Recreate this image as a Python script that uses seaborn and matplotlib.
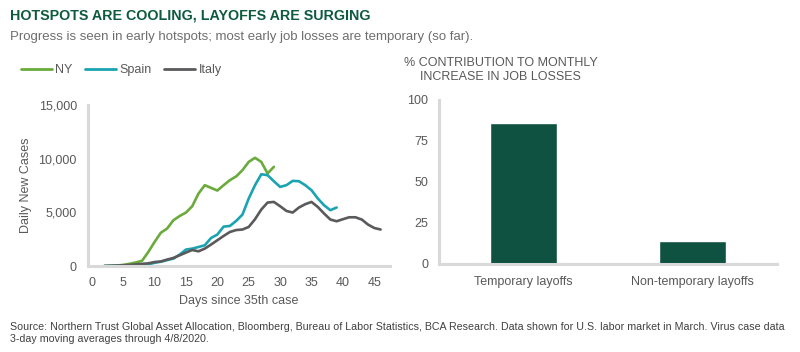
import matplotlib
matplotlib.use("Agg")
import matplotlib.pyplot as plt
import seaborn as sns
import pandas as pd
import numpy as np
from matplotlib.ticker import FuncFormatter
from matplotlib.lines import Line2D

sns.set_theme(style="white")
plt.rcParams['font.family'] = ['Liberation Sans', 'DejaVu Sans']

# ---- data ----
ny_days = list(range(2, 30))
ny_cases = [0, 20, 50, 100, 200, 330, 480, 1300, 2240, 3100, 3490, 4260, 4660, 4980,
            5570, 6750, 7530, 7280, 7030, 7530, 8000, 8350, 8930, 9700, 10080, 9700,
            8620, 9240]
spain_days = list(range(2, 40))
spain_cases = [0, 10, 20, 30, 50, 70, 100, 150, 300, 400, 550, 690, 1060, 1530, 1620,
               1770, 1930, 2610, 2930, 3670, 3730, 4200, 4790, 6290, 7530, 8550, 8460,
               7900, 7370, 7530, 7930, 7900, 7530, 7060, 6290, 5660, 5200, 5450]
italy_days = list(range(2, 47))
italy_cases = [0, 20, 40, 70, 100, 150, 200, 250, 370, 420, 600, 750, 1000, 1250, 1490,
               1370, 1620, 2000, 2400, 2800, 3170, 3350, 3400, 3640, 4360, 5260, 5910,
               5970, 5570, 5130, 4980, 5450, 5760, 5970, 5500, 4890, 4330, 4170, 4360,
               4540, 4540, 4330, 3860, 3540, 3400]
series_names = ["NY", "Spain", "Italy"]
series_colors = ["#6aab3c", "#1aa3b1", "#5a5a5c"]

bar_categories = ["Temporary layoffs", "Non-temporary layoffs"]
bar_values = [86, 14]

x_ticks = [0, 5, 10, 15, 20, 25, 30, 35, 40, 45]
y_ticks_left = [0, 5000, 10000, 15000]
y_ticks_right = [0, 25, 50, 75, 100]

# ---- figure ----
fig = plt.figure(figsize=(8, 3.52), dpi=100)
grey_text = "#595959"
spine_col = "#d9d9d9"

df = pd.concat([
    pd.DataFrame({"day": ny_days, "cases": ny_cases, "series": "NY"}),
    pd.DataFrame({"day": spain_days, "cases": spain_cases, "series": "Spain"}),
    pd.DataFrame({"day": italy_days, "cases": italy_cases, "series": "Italy"}),
], ignore_index=True)

ax1 = fig.add_axes([0.110, 0.2443, 0.3775, 0.4574])
sns.lineplot(data=df, x="day", y="cases", hue="series", hue_order=series_names,
             palette=series_colors, linewidth=1.9, ax=ax1, legend=False)
ax1.set_xlim(-0.6, 47.5)
ax1.set_ylim(0, 15000)
ax1.set_xticks(x_ticks)
ax1.set_yticks(y_ticks_left)
ax1.yaxis.set_major_formatter(FuncFormatter(lambda v, p: f"{int(v):,}"))
ax1.set_xlabel("Days since 35th case", fontsize=9, color=grey_text, labelpad=4)
ax1.set_ylabel("Daily New Cases", fontsize=9, color=grey_text, labelpad=5)
for s in ["top", "right"]:
    ax1.spines[s].set_visible(False)
for s in ["left", "bottom"]:
    ax1.spines[s].set_color(spine_col)
    ax1.spines[s].set_linewidth(2.2)
ax1.tick_params(axis="both", labelsize=9, colors=grey_text, length=0)
ax1.tick_params(axis="y", pad=8)
ax1.tick_params(axis="x", pad=8)

# legend
handles = [Line2D([0], [0], color=c, lw=2) for c in series_colors]
fig.legend(handles, series_names, loc="center left", bbox_to_anchor=(0.015, 0.80),
           ncol=3, frameon=False, fontsize=9, handlelength=2.5, handletextpad=0.25,
           columnspacing=1.0, labelcolor=grey_text, borderpad=0.2)

# bar chart
ax2 = fig.add_axes([0.549, 0.25, 0.422, 0.466])
bdf = pd.DataFrame({"category": bar_categories, "value": bar_values})
sns.barplot(data=bdf, x="category", y="value", color="#0f5241", width=0.4,
            saturation=1, ax=ax2)
ax2.set_xlim(-0.5, 1.5)
ax2.set_ylim(0, 100)
ax2.set_yticks(y_ticks_right)
ax2.set_xlabel("")
ax2.set_ylabel("")
for s in ["top", "right"]:
    ax2.spines[s].set_visible(False)
for s in ["left", "bottom"]:
    ax2.spines[s].set_color(spine_col)
    ax2.spines[s].set_linewidth(2.2)
ax2.tick_params(axis="both", labelsize=9, colors=grey_text, length=0)
ax2.tick_params(axis="y", pad=8)
ax2.tick_params(axis="x", pad=9)

# texts
fig.text(0.0125, 0.955, "HOTSPOTS ARE COOLING, LAYOFFS ARE SURGING", fontsize=10.3,
         fontweight="bold", color="#0d5a3e", va="center", ha="left")
fig.text(0.0125, 0.895, "Progress is seen in early hotspots; most early job losses are temporary (so far).",
         fontsize=9.5, color="#6e6e6e", va="center", ha="left")
fig.text(0.626, 0.80, "% CONTRIBUTION TO MONTHLY\nINCREASE IN JOB LOSSES", fontsize=9,
         color=grey_text, ha="center", va="center", linespacing=1.2)
fig.text(0.0125, 0.055,
         "Source: Northern Trust Global Asset Allocation, Bloomberg, Bureau of Labor Statistics, BCA Research. Data shown for U.S. labor market in March. Virus case data\n3-day moving averages through 4/8/2020.",
         fontsize=7.65, color="#404040", ha="left", va="center", linespacing=1.25)

fig.savefig("out.png", dpi=100)
